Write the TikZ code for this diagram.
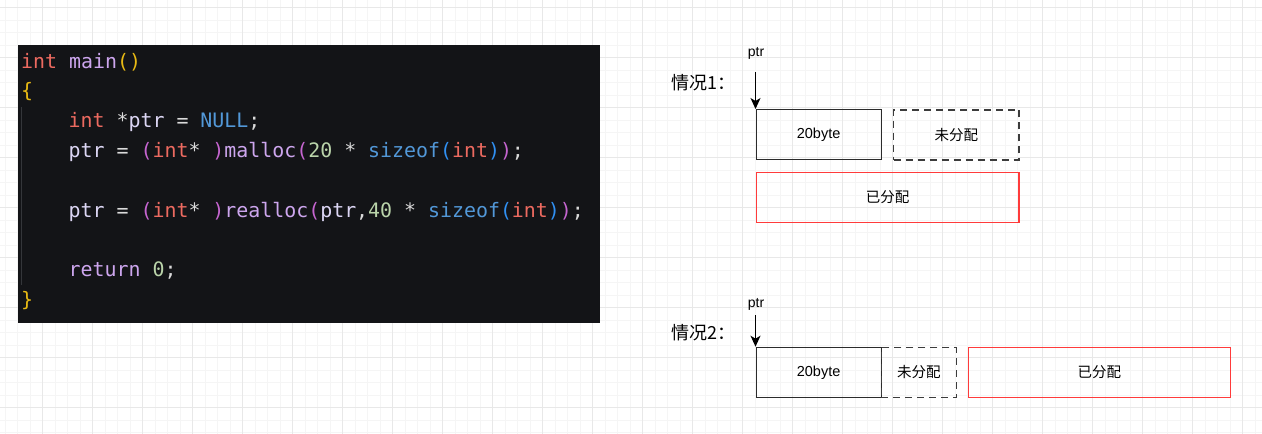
\documentclass[tikz,border=0pt]{standalone}
\usepackage{fontspec}
\setmainfont{Liberation Sans}
\newfontfamily\cjk{Noto Sans CJK SC}
\newfontfamily\codefont{DejaVu Sans Mono}
\usetikzlibrary{arrows.meta}
\definecolor{codebg}{HTML}{131417}
\definecolor{cRed}{HTML}{EC6A60}
\definecolor{cLav}{HTML}{CDA6EE}
\definecolor{cPtr}{HTML}{DCD6F4}
\definecolor{cWht}{HTML}{DADADA}
\definecolor{cGold}{HTML}{E8BA14}
\definecolor{cMag}{HTML}{C565D0}
\definecolor{cNum}{HTML}{BAD4AA}
\definecolor{cBlue}{HTML}{5298D8}
\definecolor{cBBlue}{HTML}{3090F2}
\definecolor{guide}{HTML}{34363A}
\definecolor{gridmajor}{HTML}{E8E8E8}
\definecolor{gridminor}{HTML}{F5F5F5}
\definecolor{boxline}{HTML}{2B2B2B}
\definecolor{dashline}{HTML}{3C3C3C}
\definecolor{redline}{HTML}{FF3B3B}
\newcommand\cR[1]{\textcolor{cRed}{#1}}
\newcommand\cL[1]{\textcolor{cLav}{#1}}
\newcommand\cP[1]{\textcolor{cPtr}{#1}}
\newcommand\cG[1]{\textcolor{cGold}{#1}}
\newcommand\cM[1]{\textcolor{cMag}{#1}}
\newcommand\cN[1]{\textcolor{cNum}{#1}}
\newcommand\cB[1]{\textcolor{cBlue}{#1}}
\newcommand\cBB[1]{\textcolor{cBBlue}{#1}}
\tikzset{
  minorgrid/.style={gridminor, line width=1pt},
  majorgrid/.style={gridmajor, line width=1.2pt},
  codeline/.style={anchor=base west, inner sep=0pt, text=cWht, font=\codefont\fontsize{19.9}{24}\selectfont},
  membox/.style={anchor=north west, inner sep=0pt, font=\fontsize{14.5}{17}\selectfont},
  solidbox/.style={membox, draw=boxline, line width=1.2pt},
  dashbox/.style={membox, draw=dashline, line width=1.6pt, dash pattern=on 7pt off 5pt},
  redbox/.style={membox, draw=redline, line width=1.2pt},
  ptrlabel/.style={inner sep=0pt, font=\fontsize{14}{16}\selectfont},
  caselabel/.style={anchor=west, inner sep=0pt, font=\cjk\fontsize{18}{22}\selectfont},
  ptrarrow/.style={draw=black, line width=1.2pt, -{Stealth[length=11pt,width=10pt,inset=3pt]}}
}
\begin{document}
\begin{tikzpicture}[x=1pt,y=-1pt]
\useasboundingbox (0,0) rectangle (1262,434);
\fill[white] (0,0) rectangle (1262,434);
% grid
\foreach \i in {0,...,102} {\draw[minorgrid] ({-7.3+12.5*\i},0) -- ++(0,434);}
\foreach \i in {0,...,35} {\draw[minorgrid] (0,{-4.8+12.5*\i}) -- ++(1262,0);}
\foreach \i in {0,...,26} {\draw[majorgrid] ({-7.3+50*\i},0) -- ++(0,434);}
\foreach \i in {0,...,8} {\draw[majorgrid] (0,{7.7+50*\i}) -- ++(1262,0);}
% code block
\node[fill=codebg, anchor=north west, inner sep=0pt, minimum width=582pt, minimum height=278pt] (code) at (18,45) {};
\draw[guide, line width=1.5pt] (21.5,107) -- (21.5,285);
\node[codeline] (l0) at (21,68) {\cR{int} \cL{main}\cG{()}};
\node[codeline] (l1) at (21,97.8) {\cG{\{}};
\node[codeline] (l2) at (68.5,127.6) {\cR{int} *\cP{ptr} = \cB{NULL};};
\node[codeline] (l3) at (68.5,157.4) {\cP{ptr} = \cM{(}\cR{int}* \cM{)}\cL{malloc}\cM{(}\cN{20} * \cB{sizeof}\cBB{(}\cR{int}\cBB{)}\cM{)};};
\node[codeline] (l5) at (68.5,217) {\cP{ptr} = \cM{(}\cR{int}* \cM{)}\cL{realloc}\cM{(}\cP{ptr},\cN{40} * \cB{sizeof}\cBB{(}\cR{int}\cBB{)}\cM{)};};
\node[codeline] (l7) at (68.5,276.6) {\cL{return} \cN{0};};
\node[codeline] (l8) at (21,306.4) {\cG{\}}};
% case 1
\node[caselabel] (c1) at (671,83) {情况1：};
\node[ptrlabel] (p1) at (756,53) {ptr};
\node[solidbox, minimum width=125pt, minimum height=50pt] (b1) at (755.5,109) {20byte};
\node[dashbox, minimum width=125.6pt, minimum height=50pt] (u1) at (892.7,109) {\cjk 未分配};
\node[redbox, minimum width=262.8pt, minimum height=50pt] (r1) at (755.5,171.7) {\cjk 已分配};
\coordinate (a1) at (755.5,72);
\draw[ptrarrow] (a1) -- (b1.north west);
% case 2
\node[caselabel] (c2) at (671,333) {情况2：};
\node[ptrlabel] (p2) at (756,304) {ptr};
\node[solidbox, minimum width=125pt, minimum height=50pt] (b2) at (755.5,346.7) {20byte};
\node[dashbox, minimum width=75pt, minimum height=50pt] (u2) at (880.5,346.7) {\cjk 未分配};
\node[redbox, minimum width=262.5pt, minimum height=50pt] (r2) at (967.5,346.7) {\cjk 已分配};
\coordinate (a2) at (755.5,315);
\draw[ptrarrow] (a2) -- (b2.north west);
\end{tikzpicture}
\end{document}
